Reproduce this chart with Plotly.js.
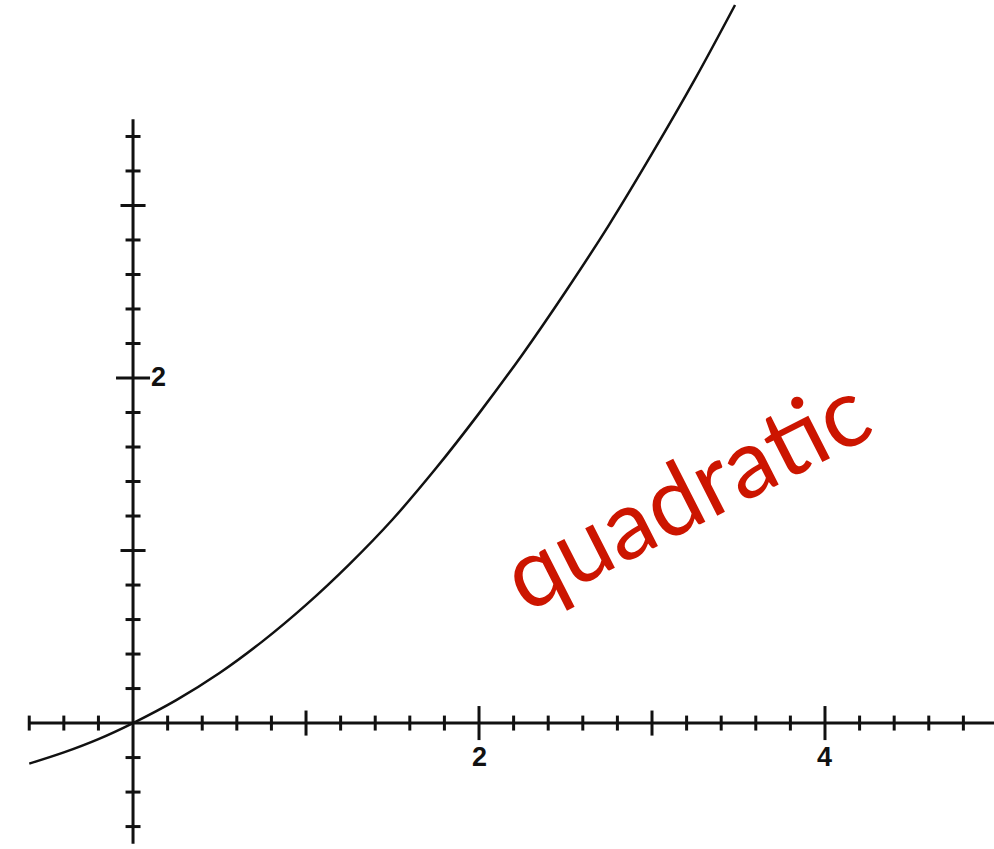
<!DOCTYPE html>
<html>
<head>
<meta charset="utf-8">
<script src="https://cdn.plot.ly/plotly-3.0.1.min.js"></script>
<style>
  html, body { margin: 0; padding: 0; background: #ffffff; }
  #chart { width: 994px; height: 849px; }
</style>
</head>
<body>
<div id="chart"></div>
<script>
// Curve samples
const curveX = [-0.6, -0.4, -0.2, 0, 0.25, 0.5, 0.75, 1.0, 1.25, 1.5, 1.75, 2.0, 2.25, 2.5, 2.75, 3.0, 3.25, 3.48];
const curveY = [-0.235, -0.17, -0.093, 0, 0.133, 0.29, 0.475, 0.685, 0.92, 1.18, 1.475, 1.795, 2.135, 2.50, 2.885, 3.30, 3.735, 4.162];

// Axis extents
const xAxisSpan = [-0.6, 5.0];
const yAxisSpan = [-0.7, 3.5];

// Tick positions along the horizontal axis
const xMinorTicks = [-0.6, -0.4, -0.2, 0.2, 0.4, 0.6, 0.8, 1.2, 1.4, 1.6, 1.8, 2.2, 2.4, 2.6, 2.8, 3.2, 3.4, 3.6, 3.8, 4.2, 4.4, 4.6, 4.8];
const xMajorTicks = [1, 3];
const xLabelTicks = [2, 4];
const xTickLabels = ['2', '4'];

// Tick positions along the vertical axis
const yMinorTicks = [-0.6, -0.4, -0.2, 0.2, 0.4, 0.6, 0.8, 1.2, 1.4, 1.6, 1.8, 2.2, 2.4, 2.6, 2.8, 3.2, 3.4];
const yMajorTicks = [1, 3];
const yLabelTicks = [2];
const yTickLabels = ['2'];

const curveLabel = 'quadratic';

const ink = '#111111';
const zeros = n => n.map(() => 0);

function tickTrace(xs, ys, symbol, size) {
  return {
    x: xs, y: ys, type: 'scatter', mode: 'markers', hoverinfo: 'skip', showlegend: false,
    marker: { symbol: symbol, size: size, color: ink, line: { color: ink, width: 3 } }
  };
}

const traces = [
  // axis lines
  { x: xAxisSpan, y: [0, 0], type: 'scatter', mode: 'lines', hoverinfo: 'skip', showlegend: false,
    line: { color: ink, width: 3 } },
  { x: [0, 0], y: yAxisSpan, type: 'scatter', mode: 'lines', hoverinfo: 'skip', showlegend: false,
    line: { color: ink, width: 3 } },
  // tick marks crossing the axes
  tickTrace(xMinorTicks, zeros(xMinorTicks), 'line-ns', 10.7),
  tickTrace(xMajorTicks, zeros(xMajorTicks), 'line-ns', 17.9),
  tickTrace(xLabelTicks, zeros(xLabelTicks), 'line-ns', 24.3),
  tickTrace(zeros(yMinorTicks), yMinorTicks, 'line-ew', 10.7),
  tickTrace(zeros(yMajorTicks), yMajorTicks, 'line-ew', 17.9),
  tickTrace(zeros(yLabelTicks), yLabelTicks, 'line-ew', 24.3),
  // the curve
  { x: curveX, y: curveY, type: 'scatter', mode: 'lines', hoverinfo: 'skip', showlegend: false,
    line: { color: ink, width: 2.5, shape: 'spline' } }
];

const tickFont = { family: 'Liberation Sans, Arial, sans-serif', size: 27, color: ink, weight: 'bold' };
const annotations = [];
xLabelTicks.forEach((v, i) => annotations.push({
  x: v, y: 0, xref: 'x', yref: 'y', text: xTickLabels[i], showarrow: false,
  xanchor: 'center', yanchor: 'top', yshift: -17, font: tickFont
}));
yLabelTicks.forEach((v, i) => annotations.push({
  x: 0, y: v, xref: 'x', yref: 'y', text: yTickLabels[i], showarrow: false,
  xanchor: 'left', yanchor: 'middle', xshift: 16, yshift: 1, font: tickFont
}));
annotations.push({
  x: 3.186, y: 1.346, xref: 'x', yref: 'y', text: curveLabel, showarrow: false,
  xanchor: 'center', yanchor: 'middle', textangle: -27,
  font: { family: 'Lato, Noto Sans, sans-serif', size: 96, color: '#cc1500' }
});

const layout = {
  width: 994, height: 849,
  margin: { l: 0, r: 0, t: 0, b: 0, pad: 0 },
  paper_bgcolor: '#ffffff', plot_bgcolor: '#ffffff',
  showlegend: false,
  xaxis: { range: [-0.769, 4.977], visible: false, fixedrange: true },
  yaxis: { range: [-0.730, 4.191], visible: false, fixedrange: true },
  annotations: annotations
};

Plotly.newPlot('chart', traces, layout, { displayModeBar: false, staticPlot: true });
</script>
</body>
</html>
